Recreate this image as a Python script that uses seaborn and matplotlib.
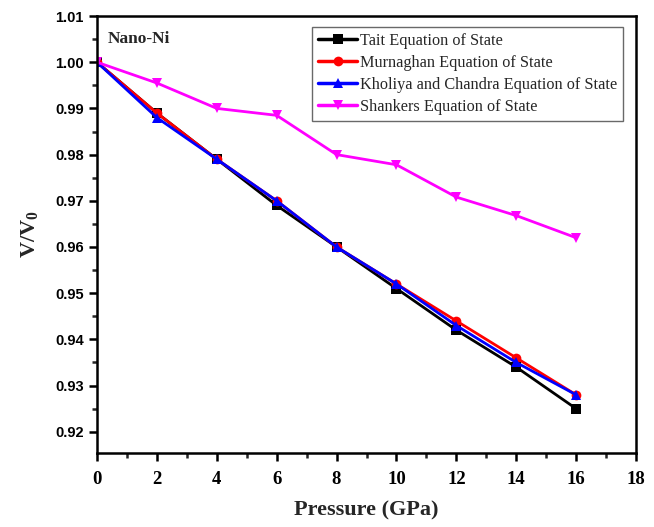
import numpy as np
import pandas as pd
import matplotlib
matplotlib.use("Agg")
import matplotlib.pyplot as plt
from matplotlib.ticker import MultipleLocator
import seaborn as sns

pressure = [0, 2, 4, 6, 8, 10, 12, 14, 16]
tait = [1.000, 0.989, 0.979, 0.969, 0.960, 0.951, 0.942, 0.934, 0.925]
murnaghan = [1.000, 0.989, 0.979, 0.970, 0.960, 0.952, 0.944, 0.936, 0.928]
kholiya = [1.000, 0.988, 0.979, 0.970, 0.960, 0.952, 0.943, 0.935, 0.928]
shankers = [1.000, 0.9955, 0.990, 0.9885, 0.980, 0.9778, 0.9708, 0.9668, 0.962]

series_names = ["Tait Equation of State", "Murnaghan Equation of State",
                "Kholiya and Chandra Equation of State", "Shankers Equation of State"]
series_vals = [tait, murnaghan, kholiya, shankers]
colors = ["#000000", "#ff0000", "#0000ff", "#ff00ff"]
markers = ["s", "o", "^", "v"]

df = pd.concat([pd.DataFrame({"Pressure": pressure, "V": v, "EOS": n})
                for n, v in zip(series_names, series_vals)], ignore_index=True)

sns.set_style("white")
plt.rcParams["font.family"] = ["Liberation Serif", "DejaVu Serif"]
plt.rcParams["mathtext.fontset"] = "custom"
plt.rcParams["mathtext.rm"] = "Liberation Serif"
plt.rcParams["mathtext.bf"] = "Liberation Serif:bold"

fig = plt.figure(figsize=(6.54, 5.27), dpi=100)
ax = fig.add_axes([0.1483, 0.1404, 0.9725 - 0.1483, 0.9696 - 0.1404])

sns.lineplot(data=df, x="Pressure", y="V", hue="EOS", style="EOS",
             palette=dict(zip(series_names, colors)),
             markers=dict(zip(series_names, markers)),
             dashes=False, linewidth=2.0, markersize=7, markeredgewidth=0,
             ax=ax, legend=True)

ax.set_xlim(0, 18)
ax.set_ylim(0.9154, 1.01)
ax.xaxis.set_major_locator(MultipleLocator(2))
ax.xaxis.set_minor_locator(MultipleLocator(1))
ax.yaxis.set_major_locator(MultipleLocator(0.01))
ax.yaxis.set_minor_locator(MultipleLocator(0.005))
ax.yaxis.set_major_formatter(matplotlib.ticker.FormatStrFormatter("%.2f"))

for s in ax.spines.values():
    s.set_linewidth(1.8)
    s.set_color("black")

ax.tick_params(axis="both", which="major", direction="out", length=6, width=1.8,
               bottom=True, left=True, top=False, right=False, colors="black")
ax.tick_params(axis="both", which="minor", direction="out", length=3.5, width=1.8,
               bottom=True, left=True, top=False, right=False)
ax.tick_params(axis="x", which="major", pad=7)
for lab in ax.get_xticklabels():
    lab.set_fontfamily("Liberation Serif")
    lab.set_fontweight("bold")
    lab.set_fontsize(13.5)
for lab in ax.get_yticklabels():
    lab.set_fontfamily("Liberation Sans")
    lab.set_fontweight("bold")
    lab.set_fontsize(10.5)

ax.set_xlabel("Pressure (GPa)", fontsize=16, fontweight="bold", labelpad=9)
ax.set_ylabel(r"V/V$_\mathbf{0}$", fontsize=16, fontweight="bold", labelpad=10)

ax.text(0.02, 0.965, "Nano-Ni", transform=ax.transAxes, fontsize=12.5,
        fontweight="bold", va="top", ha="left")

handles, labels = ax.get_legend_handles_labels()
leg = ax.legend(handles, labels, loc="upper right", bbox_to_anchor=(0.975, 0.975),
                fontsize=11.7, frameon=True, fancybox=False, edgecolor="#444444",
                handlelength=2.4, handletextpad=0.15, labelspacing=0.38,
                borderpad=0.35, borderaxespad=0)
leg.get_frame().set_linewidth(1.0)
for line in leg.get_lines():
    line.set_linewidth(2.5)

fig.savefig("out.png", dpi=100)
